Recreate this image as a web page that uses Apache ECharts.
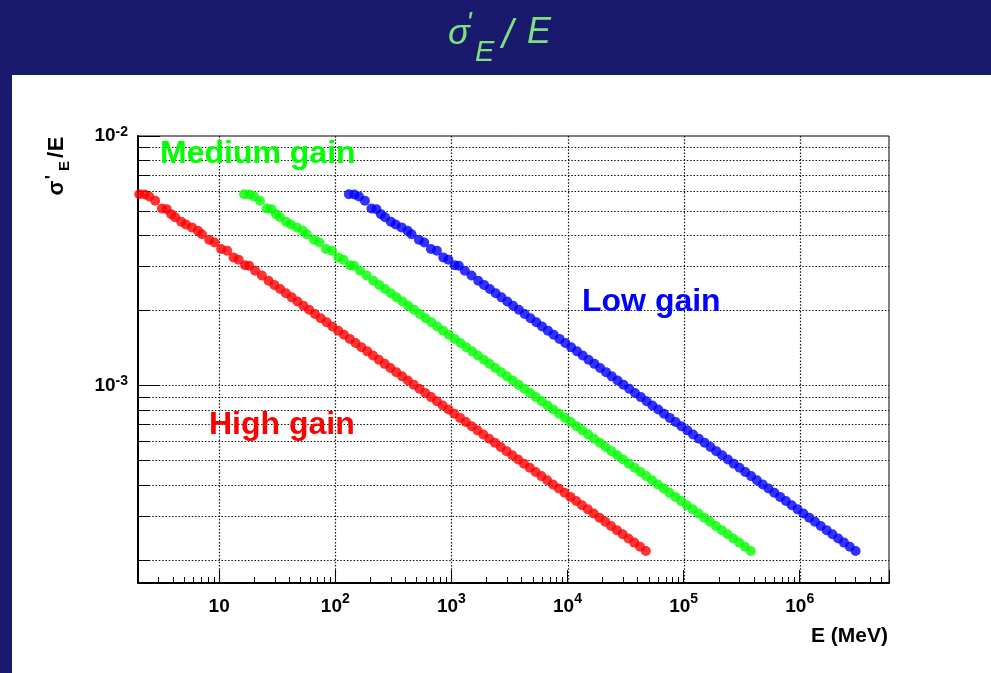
<!DOCTYPE html>
<html><head><meta charset="utf-8">
<script src="https://cdn.jsdelivr.net/npm/echarts@6/dist/echarts.min.js"></script>
<style>html,body{margin:0;padding:0;background:#fff;} #chart{width:991px;height:673px;}</style>
</head><body><div id="chart"></div>
<script>
// ---- data ----
const energyHigh = [2.05,2.28,2.50,2.81,3.21,3.53,3.86,4.18,4.71,5.17,5.82,6.56,7.10,8.20,9.13,10.4,11.7,13.3,14.7,16.7,18.1,20.4,23.3,
 26.6,29.85,33.49,37.58,42.16,47.31,53.09,59.57,66.83,74.99,84.14,94.4,105.9,118.8,133.3,149.6,167.9,188.4,211.3,237.1,266.1,298.5,335.0,375.8,421.7,473.2,530.9,595.7,668.4,750.0,841.5,944,1059,1188,1333,1496,1679,1884,2113,2371,2661,2985,3350,3758,4217,4732,5309,5957,6684,7500,8415,9442,10590,11880,13330,14960,16790,18840,21130,23710,26610,29850,33500,37580,42170,47320];
const sigmaHigh = [5.84e-3,5.83e-3,5.72e-3,5.50e-3,5.12e-3,5.09e-3,4.86e-3,4.72e-3,4.53e-3,4.42e-3,4.30e-3,4.17e-3,4.04e-3,3.84e-3,3.74e-3,3.52e-3,3.47e-3,3.26e-3,3.19e-3,3.03e-3,3.02e-3,2.88e-3,2.76e-3,
 2.628e-3,2.529e-3,2.434e-3,2.342e-3,2.254e-3,2.169e-3,2.087e-3,2.009e-3,1.933e-3,1.860e-3,1.790e-3,1.723e-3,1.658e-3,1.596e-3,1.536e-3,1.478e-3,1.422e-3,1.369e-3,1.317e-3,1.268e-3,1.220e-3,1.174e-3,1.130e-3,1.087e-3,1.046e-3,1.007e-3,9.69e-4,9.325e-4,8.974e-4,8.636e-4,8.311e-4,7.998e-4,7.697e-4,7.407e-4,7.128e-4,6.860e-4,6.602e-4,6.353e-4,6.114e-4,5.884e-4,5.662e-4,5.449e-4,5.244e-4,5.046e-4,4.856e-4,4.673e-4,4.497e-4,4.328e-4,4.165e-4,4.008e-4,3.857e-4,3.712e-4,3.572e-4,3.438e-4,3.308e-4,3.184e-4,3.064e-4,2.949e-4,2.838e-4,2.731e-4,2.628e-4,2.529e-4,2.434e-4,2.342e-4,2.254e-4,2.169e-4];

const energyMedium = [16.4,18.2,20.0,22.5,25.7,28.2,30.9,33.4,37.7,41.4,46.6,52.5,56.8,65.6,73.0,83.2,93.6,106.4,117.6,133.6,144.8,163.2,186.4,
 212.8,238.8,267.9,300.6,337.3,378.5,424.7,476.6,534.6,599.9,673.1,755.2,847.2,950.4,1066,1197,1343,1507,1690,1897,2129,2388,2680,3006,3374,3786,4247,4766,5347,6000,6732,7552,8472,9504,10660,11970,13430,15070,16900,18970,21290,23880,26800,30060,33740,37860,42470,47660,53470,60000,67320,75540,84720,95040,106600,119700,134300,150700,169000,189700,212900,238800,268000,300600,337400,378600];
const sigmaMedium = [5.84e-3,5.83e-3,5.72e-3,5.50e-3,5.12e-3,5.09e-3,4.86e-3,4.72e-3,4.53e-3,4.42e-3,4.30e-3,4.17e-3,4.04e-3,3.84e-3,3.74e-3,3.52e-3,3.47e-3,3.26e-3,3.19e-3,3.03e-3,3.02e-3,2.88e-3,2.76e-3,
 2.628e-3,2.529e-3,2.434e-3,2.342e-3,2.254e-3,2.169e-3,2.087e-3,2.009e-3,1.933e-3,1.860e-3,1.790e-3,1.723e-3,1.658e-3,1.596e-3,1.536e-3,1.478e-3,1.422e-3,1.369e-3,1.317e-3,1.268e-3,1.220e-3,1.174e-3,1.130e-3,1.087e-3,1.046e-3,1.007e-3,9.69e-4,9.325e-4,8.974e-4,8.636e-4,8.311e-4,7.998e-4,7.697e-4,7.407e-4,7.128e-4,6.860e-4,6.602e-4,6.353e-4,6.114e-4,5.884e-4,5.662e-4,5.449e-4,5.244e-4,5.046e-4,4.856e-4,4.673e-4,4.497e-4,4.328e-4,4.165e-4,4.008e-4,3.857e-4,3.712e-4,3.572e-4,3.438e-4,3.308e-4,3.184e-4,3.064e-4,2.949e-4,2.838e-4,2.731e-4,2.628e-4,2.529e-4,2.434e-4,2.342e-4,2.254e-4,2.169e-4];

const energyLow = [131,146,160,180,205,226,247,268,301,331,372,420,454,525,584,666,749,851,941,1069,1158,1306,1491,
 1702,1910,2143,2405,2698,3028,3398,3812,4277,4799,5385,6042,6778,7603,8531,9574,10750,12060,13520,15170,17030,19100,21440,24050,26990,30280,33980,38120,42780,48000,53860,60420,67780,76030,85310,95740,107500,120600,135200,151700,170300,191000,214400,240500,269900,302800,339800,381200,427800,480000,538600,604300,677800,760300,853100,957400,1074600,1205800,1352300,1517400,1703000,1910400,2144000,2405100,2698900,3028500];
const sigmaLow = [5.84e-3,5.83e-3,5.72e-3,5.50e-3,5.12e-3,5.09e-3,4.86e-3,4.72e-3,4.53e-3,4.42e-3,4.30e-3,4.17e-3,4.04e-3,3.84e-3,3.74e-3,3.52e-3,3.47e-3,3.26e-3,3.19e-3,3.03e-3,3.02e-3,2.88e-3,2.76e-3,
 2.628e-3,2.529e-3,2.434e-3,2.342e-3,2.254e-3,2.169e-3,2.087e-3,2.009e-3,1.933e-3,1.860e-3,1.790e-3,1.723e-3,1.658e-3,1.596e-3,1.536e-3,1.478e-3,1.422e-3,1.369e-3,1.317e-3,1.268e-3,1.220e-3,1.174e-3,1.130e-3,1.087e-3,1.046e-3,1.007e-3,9.69e-4,9.325e-4,8.974e-4,8.636e-4,8.311e-4,7.998e-4,7.697e-4,7.407e-4,7.128e-4,6.860e-4,6.602e-4,6.353e-4,6.114e-4,5.884e-4,5.662e-4,5.449e-4,5.244e-4,5.046e-4,4.856e-4,4.673e-4,4.497e-4,4.328e-4,4.165e-4,4.008e-4,3.857e-4,3.712e-4,3.572e-4,3.438e-4,3.308e-4,3.184e-4,3.064e-4,2.949e-4,2.838e-4,2.731e-4,2.628e-4,2.529e-4,2.434e-4,2.342e-4,2.254e-4,2.169e-4];

const seriesNames = ['High gain', 'Medium gain', 'Low gain'];
const xRange = [2, 5.87e6];
const yRange = [1.613e-4, 1e-2];
const xMinorTicks = [3,4,5,6,7,8,9,20,30,40,50,60,70,80,90,200,300,400,500,600,700,800,900,
 2000,3000,4000,5000,6000,7000,8000,9000,20000,30000,40000,50000,60000,70000,80000,90000,
 200000,300000,400000,500000,600000,700000,800000,900000,2000000,3000000,4000000,5000000];
const yMinorTicks = [2e-4,3e-4,4e-4,5e-4,6e-4,7e-4,8e-4,9e-4,2e-3,3e-3,4e-3,5e-3,6e-3,7e-3,8e-3,9e-3];
const xMajorTicks = [10, 100, 1000, 10000, 100000, 1000000];
const yMajorTicks = [1e-3];

// ---- chart ----
const FONT = '"Liberation Sans", Arial, Helvetica, sans-serif';
const NAVY = '#19196e';
const TGREEN = '#80e080';
function pair(xs, ys){ const out=[]; for(let i=0;i<Math.min(xs.length,ys.length);i++) out.push([xs[i], ys[i]]); return out; }
function powLabel(v){
  const l = Math.log10(v), e = Math.round(l);
  if (Math.abs(l - e) > 1e-6) return '';
  return e === 1 ? '{b|10}' : '{b|10}{s|' + e + '}';
}
const gridData = yMinorTicks.map(v => [xRange[0], v, 0])
  .concat(xMinorTicks.map(v => [v, yRange[0], 1]))
  .concat(yMajorTicks.map(v => [xRange[0], v, 2]))
  .concat(xMajorTicks.map(v => [v, yRange[0], 3]));
const DOT = [1.5, 1.8];

const chart = echarts.init(document.getElementById('chart'), null, {renderer: 'canvas'});
chart.setOption({
  animation: false,
  backgroundColor: '#ffffff',
  grid: {left: 138, top: 136, width: 751, height: 447, show: true, borderColor: '#000', borderWidth: 1, backgroundColor: 'transparent'},
  xAxis: {
    type: 'log', logBase: 10, min: xRange[0], max: xRange[1],
    axisLine: {show: true, onZero: false, lineStyle: {color: '#000', width: 2}},
    axisTick: {show: true, inside: true, length: 13, lineStyle: {color: '#000', width: 1}},
    splitLine: {show: false},
    axisLabel: {margin: 9, formatter: powLabel, rich: {
      b: {fontFamily: FONT, fontWeight: 'bold', fontSize: 19, lineHeight: 30, color: '#000'},
      s: {fontFamily: FONT, fontWeight: 'bold', fontSize: 14, lineHeight: 12, verticalAlign: 'top', color: '#000'}
    }}
  },
  yAxis: {
    type: 'log', logBase: 10, min: yRange[0], max: yRange[1],
    axisLine: {show: true, onZero: false, lineStyle: {color: '#000', width: 2}},
    axisTick: {show: true, inside: true, length: 22, lineStyle: {color: '#000', width: 1}},
    splitLine: {show: false},
    axisLabel: {margin: 10, formatter: powLabel, rich: {
      b: {fontFamily: FONT, fontWeight: 'bold', fontSize: 19, lineHeight: 22, color: '#000'},
      s: {fontFamily: FONT, fontWeight: 'bold', fontSize: 14, lineHeight: 12, verticalAlign: 'top', color: '#000'}
    }}
  },
  series: [
    {
      type: 'custom', name: 'grid', coordinateSystem: 'cartesian2d', silent: true, z: 1, clip: false,
      dimensions: ['x', 'y', 'kind'], encode: {x: 0, y: 1}, data: gridData,
      renderItem: function (params, api) {
        const cs = params.coordSys;
        const kind = api.value(2);
        const dotStyle = {stroke: '#111', lineWidth: 1.2, lineDash: DOT};
        if (kind === 0 || kind === 2) {
          const p = api.coord([xRange[0], api.value(1)]);
          const y = Math.round(p[1]) + 0.5;
          const ch = [{type: 'line', shape: {x1: cs.x + 1, y1: y, x2: cs.x + cs.width, y2: y}, style: dotStyle}];
          if (kind === 0) ch.push({type: 'line', shape: {x1: cs.x, y1: y, x2: cs.x + 12, y2: y}, style: {stroke: '#000', lineWidth: 1}});
          return {type: 'group', children: ch};
        }
        const p = api.coord([api.value(0), yRange[0]]);
        const x = Math.round(p[0]) + 0.5;
        const yb = cs.y + cs.height;
        if (kind === 3) {
          return {type: 'line', shape: {x1: x, y1: cs.y, x2: x, y2: yb}, style: dotStyle};
        }
        return {type: 'line', shape: {x1: x, y1: yb, x2: x, y2: yb - 6}, style: {stroke: '#000', lineWidth: 1}};
      }
    },
    {type: 'scatter', name: seriesNames[0], data: pair(energyHigh, sigmaHigh), symbol: 'circle', symbolSize: 10, itemStyle: {color: '#ff0000'}, z: 3},
    {type: 'scatter', name: seriesNames[1], data: pair(energyMedium, sigmaMedium), symbol: 'circle', symbolSize: 10, itemStyle: {color: '#00ff00'}, z: 3},
    {type: 'scatter', name: seriesNames[2], data: pair(energyLow, sigmaLow), symbol: 'circle', symbolSize: 10, itemStyle: {color: '#0000ff'}, z: 3}
  ],
  graphic: [
    {type: 'rect', shape: {x: 0, y: 0, width: 991, height: 75}, style: {fill: NAVY}, silent: true},
    {type: 'rect', shape: {x: 0, y: 0, width: 12, height: 673}, style: {fill: NAVY}, silent: true},
    // title sigma'_E / E
    {type: 'text', x: 448, y: 34, style: {text: 'σ', fontFamily: FONT, fontStyle: 'italic', fontSize: 36, fill: TGREEN, align: 'left', verticalAlign: 'middle'}},
    {type: 'text', x: 466, y: 24, style: {text: "'", fontFamily: FONT, fontStyle: 'italic', fontSize: 30, fill: TGREEN, align: 'left', verticalAlign: 'middle'}},
    {type: 'text', x: 475, y: 53, style: {text: 'E', fontFamily: FONT, fontStyle: 'italic', fontSize: 29, fill: TGREEN, align: 'left', verticalAlign: 'middle'}},
    {type: 'text', x: 502, y: 37, style: {text: '/', fontFamily: FONT, fontStyle: 'italic', fontSize: 40, fill: TGREEN, align: 'left', verticalAlign: 'middle'}},
    {type: 'text', x: 527, y: 33, style: {text: 'E', fontFamily: FONT, fontStyle: 'italic', fontSize: 36, fill: TGREEN, align: 'left', verticalAlign: 'middle'}},
    // y title (rotated)
    {type: 'text', x: 57, y: 188, rotation: Math.PI / 2, style: {text: 'σ', fontFamily: FONT, fontWeight: 'bold', fontSize: 22, fill: '#000', align: 'center', verticalAlign: 'middle'}},
    {type: 'text', x: 53, y: 177, rotation: Math.PI / 2, style: {text: "'", fontFamily: FONT, fontWeight: 'bold', fontSize: 18, fill: '#000', align: 'center', verticalAlign: 'middle'}},
    {type: 'text', x: 65, y: 166, rotation: Math.PI / 2, style: {text: 'E', fontFamily: FONT, fontWeight: 'bold', fontSize: 15, fill: '#000', align: 'center', verticalAlign: 'middle'}},
    {type: 'text', x: 57, y: 155, rotation: Math.PI / 2, style: {text: '/', fontFamily: FONT, fontWeight: 'bold', fontSize: 22, fill: '#000', align: 'center', verticalAlign: 'middle'}},
    {type: 'text', x: 57, y: 144, rotation: Math.PI / 2, style: {text: 'E', fontFamily: FONT, fontWeight: 'bold', fontSize: 22, fill: '#000', align: 'center', verticalAlign: 'middle'}},
    // x title
    {type: 'text', x: 888, y: 636, style: {text: 'E (MeV)', fontFamily: FONT, fontWeight: 'bold', fontSize: 21, fill: '#000', align: 'right', verticalAlign: 'middle'}},
    // annotations
    {type: 'text', x: 160, y: 154, z: 10, style: {text: seriesNames[1], fontFamily: FONT, fontWeight: 'bold', fontSize: 32, fill: '#00ff00', align: 'left', verticalAlign: 'middle'}},
    {type: 'text', x: 582, y: 302, z: 10, style: {text: seriesNames[2], fontFamily: FONT, fontWeight: 'bold', fontSize: 32, fill: '#0000ff', align: 'left', verticalAlign: 'middle'}},
    {type: 'text', x: 209, y: 425, z: 10, style: {text: seriesNames[0], fontFamily: FONT, fontWeight: 'bold', fontSize: 32, fill: '#ff0000', align: 'left', verticalAlign: 'middle'}}
  ]
});
</script></body></html>
